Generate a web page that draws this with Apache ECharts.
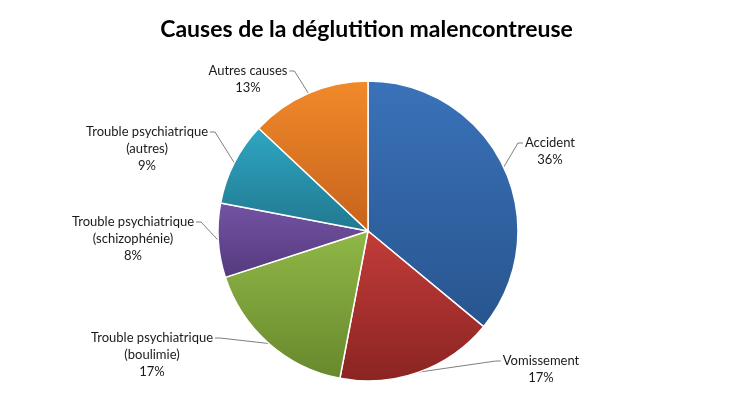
<!DOCTYPE html>
<html>
<head>
<meta charset="utf-8">
<script src="https://cdn.jsdelivr.net/npm/echarts@6/dist/echarts.min.js"></script>
<style>
  html, body { margin: 0; padding: 0; background: #fff; }
  #chart { width: 733px; height: 419px; }
</style>
</head>
<body>
<div id="chart"></div>
<script>
var categories = [
  "Accident",
  "Vomissement",
  "Trouble psychiatrique\n(boulimie)",
  "Trouble psychiatrique\n(schizophénie)",
  "Trouble psychiatrique\n(autres)",
  "Autres causes"
];
var percents = [36, 17, 17, 8, 9, 13];

// slice colours, light top -> dark bottom
var topColors = ["#3a72b9", "#c33c39", "#90b847", "#7353a3", "#2fa6c3", "#f18a2b"];
var bottomColors = ["#28558f", "#8a2422", "#68882d", "#553a7e", "#21788f", "#c6621b"];

// label anchors: centre x, first line centre y, side of the pie
var labelPos = [
  [550, 143, "right"],
  [541, 361, "right"],
  [152, 338, "left"],
  [133, 222, "left"],
  [147, 132, "left"],
  [248, 71, "left"]
];

var LINE_H = 17;

var myChart = echarts.init(document.getElementById("chart"));

var pieData = [];
for (let i = 0; i < categories.length; i++) {
  pieData.push({
    name: categories[i],
    value: percents[i],
    itemStyle: {
      color: new echarts.graphic.LinearGradient(0, 0, 0, 1, [
        { offset: 0, color: topColors[i] },
        { offset: 1, color: bottomColors[i] }
      ])
    }
  });
}

var option = {
  animation: false,
  title: {
    text: "Causes de la déglutition malencontreuse",
    left: "center",
    top: 13,
    textStyle: {
      fontFamily: "Lato",
      fontSize: 23,
      fontWeight: "bold",
      color: "#000"
    }
  },
  series: [
    {
      type: "pie",
      center: [368, 231],
      radius: 150,
      startAngle: 90,
      clockwise: true,
      avoidLabelOverlap: false,
      data: pieData,
      itemStyle: {
        borderColor: "#fff",
        borderWidth: 1.5
      },
      label: {
        show: true,
        formatter: "{b}\n{c}%",
        fontFamily: "Lato",
        fontSize: 13,
        lineHeight: LINE_H,
        color: "#1a1a1a"
      },
      labelLine: {
        show: true,
        smooth: false,
        lineStyle: { color: "#7f7f7f", width: 1 }
      },
      labelLayout: function (params) {
        var p = labelPos[params.dataIndex];
        var w = params.labelRect.width;
        var pts = params.labelLinePoints;
        var start = pts ? pts[0] : [p[0], p[1]];
        var ax, stub;
        if (p[2] === "left") {
          ax = p[0] + w / 2 + 2;
          stub = ax + 5;
        } else {
          ax = p[0] - w / 2 - 2;
          stub = ax - 5;
        }
        return {
          x: p[0],
          y: p[1] - LINE_H / 2,
          align: "center",
          verticalAlign: "top",
          labelLinePoints: [start, [stub, p[1]], [ax, p[1]]]
        };
      }
    }
  ]
};

myChart.setOption(option);
</script>
</body>
</html>
